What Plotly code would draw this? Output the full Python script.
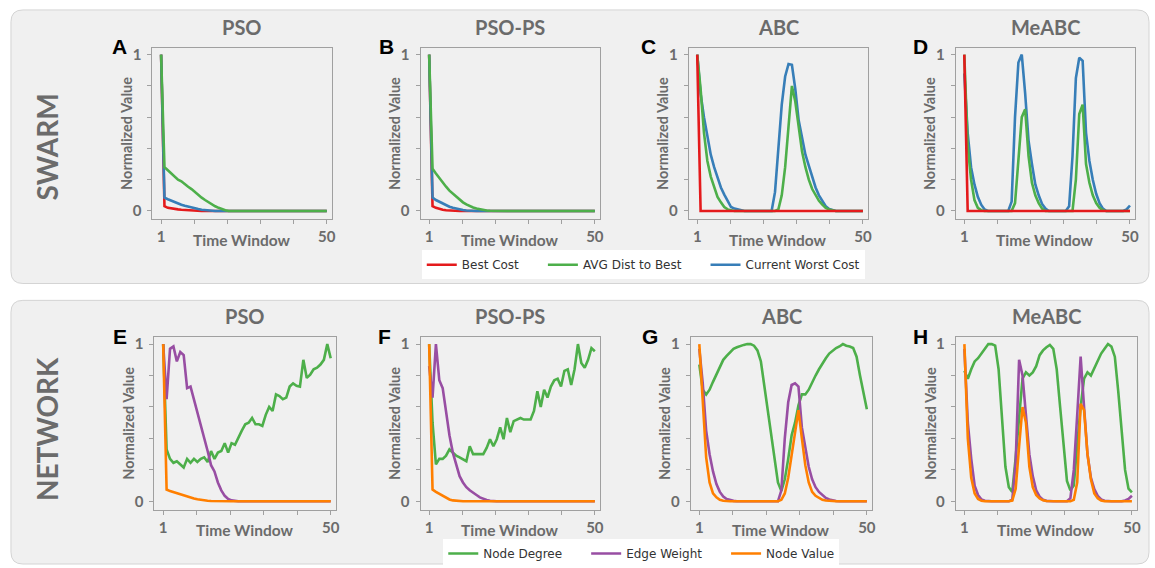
import plotly.graph_objects as go

W, H = 1155, 568

# ---------------- data ----------------
time_window = list(range(1, 51))
col_titles = ["PSO", "PSO-PS", "ABC", "MeABC"]
row_labels = ["SWARM", "NETWORK"]
panel_letters = ["A", "B", "C", "D", "E", "F", "G", "H"]
swarm_names = ["Best Cost", "AVG Dist to Best", "Current Worst Cost"]
network_names = ["Node Degree", "Edge Weight", "Node Value"]

# SWARM: Best Cost / AVG Dist to Best / Current Worst Cost
A_best = [1.0, 0.03, 0.02, 0.015, 0.012, 0.01, 0.008, 0.006, 0.004, 0.003,
          0.002, 0.001, 0, 0, 0, 0, 0, 0, 0, 0,
          0, 0, 0, 0, 0, 0, 0, 0, 0, 0,
          0, 0, 0, 0, 0, 0, 0, 0, 0, 0,
          0, 0, 0, 0, 0, 0, 0, 0, 0, 0]
A_avg = [1.0, 0.28, 0.26, 0.24, 0.22, 0.2, 0.19, 0.17, 0.155, 0.14,
         0.12, 0.1, 0.085, 0.07, 0.055, 0.04, 0.03, 0.02, 0.01, 0.005,
         0, 0, 0, 0, 0, 0, 0, 0, 0, 0,
         0, 0, 0, 0, 0, 0, 0, 0, 0, 0,
         0, 0, 0, 0, 0, 0, 0, 0, 0, 0]
A_worst = [1.0, 0.085, 0.075, 0.065, 0.055, 0.047, 0.04, 0.033, 0.027, 0.022,
           0.017, 0.012, 0.008, 0.005, 0.003, 0.001, 0, 0, 0, 0,
           0, 0, 0, 0, 0, 0, 0, 0, 0, 0,
           0, 0, 0, 0, 0, 0, 0, 0, 0, 0,
           0, 0, 0, 0, 0, 0, 0, 0, 0, 0]

B_best = [1.0, 0.03, 0.02, 0.013, 0.008, 0.005, 0.003, 0.001, 0, 0,
          0, 0, 0, 0, 0, 0, 0, 0, 0, 0,
          0, 0, 0, 0, 0, 0, 0, 0, 0, 0,
          0, 0, 0, 0, 0, 0, 0, 0, 0, 0,
          0, 0, 0, 0, 0, 0, 0, 0, 0, 0]
B_avg = [1.0, 0.27, 0.24, 0.21, 0.18, 0.155, 0.13, 0.11, 0.09, 0.07,
         0.055, 0.042, 0.03, 0.022, 0.015, 0.01, 0.006, 0.003, 0.001, 0,
         0, 0, 0, 0, 0, 0, 0, 0, 0, 0,
         0, 0, 0, 0, 0, 0, 0, 0, 0, 0,
         0, 0, 0, 0, 0, 0, 0, 0, 0, 0]
B_worst = [1.0, 0.085, 0.07, 0.058, 0.046, 0.036, 0.027, 0.02, 0.014, 0.009,
           0.006, 0.003, 0.001, 0, 0, 0, 0, 0, 0, 0,
           0, 0, 0, 0, 0, 0, 0, 0, 0, 0,
           0, 0, 0, 0, 0, 0, 0, 0, 0, 0,
           0, 0, 0, 0, 0, 0, 0, 0, 0, 0]

C_best = [1.0, 0, 0, 0, 0, 0, 0, 0, 0, 0,
          0, 0, 0, 0, 0, 0, 0, 0, 0, 0,
          0, 0, 0, 0, 0, 0, 0, 0, 0, 0,
          0, 0, 0, 0, 0, 0, 0, 0, 0, 0,
          0, 0, 0, 0, 0, 0, 0, 0, 0, 0]
C_avg = [1.0, 0.78, 0.5, 0.32, 0.22, 0.15, 0.09, 0.055, 0.025, 0.01,
         0.003, 0, 0, 0, 0, 0, 0, 0, 0, 0,
         0, 0, 0, 0, 0.01, 0.1, 0.28, 0.55, 0.8, 0.7,
         0.52, 0.38, 0.28, 0.2, 0.14, 0.1, 0.065, 0.04, 0.02, 0.01,
         0.004, 0, 0, 0, 0, 0, 0, 0, 0, 0]
C_worst = [1.0, 0.75, 0.6, 0.48, 0.36, 0.28, 0.21, 0.15, 0.105, 0.06,
           0.025, 0.015, 0.01, 0.005, 0, 0, 0, 0, 0, 0,
           0, 0, 0, 0.12, 0.42, 0.68, 0.86, 0.94, 0.935, 0.78,
           0.58, 0.46, 0.36, 0.29, 0.22, 0.15, 0.1, 0.06, 0.03, 0.012,
           0.004, 0, 0, 0, 0, 0, 0, 0, 0, 0]

D_best = [1.0, 0, 0, 0, 0, 0, 0, 0, 0, 0,
          0, 0, 0, 0, 0, 0, 0, 0, 0, 0,
          0, 0, 0, 0, 0, 0, 0, 0, 0, 0,
          0, 0, 0, 0, 0, 0, 0, 0, 0, 0,
          0, 0, 0, 0, 0, 0, 0, 0, 0, 0]
D_avg = [1.0, 0.42, 0.2, 0.07, 0.02, 0.005, 0, 0, 0, 0,
         0, 0, 0, 0, 0, 0.05, 0.35, 0.6, 0.65, 0.35,
         0.18, 0.1, 0.05, 0.015, 0, 0, 0, 0, 0, 0,
         0, 0, 0, 0.2, 0.62, 0.68, 0.3, 0.18, 0.1, 0.05,
         0.02, 0.005, 0, 0, 0, 0, 0, 0, 0, 0]
D_worst = [0.88, 0.5, 0.28, 0.17, 0.09, 0.04, 0.01, 0, 0, 0,
           0, 0, 0, 0, 0.06, 0.6, 0.95, 1.0, 0.75, 0.45,
           0.3, 0.17, 0.1, 0.045, 0.015, 0, 0, 0, 0, 0,
           0, 0.03, 0.35, 0.85, 0.98, 0.96, 0.5, 0.32, 0.2, 0.11,
           0.05, 0.015, 0, 0, 0, 0, 0, 0, 0.01, 0.035]

# NETWORK: Node Degree / Edge Weight / Node Value
E_deg = [1.0, 0.33, 0.27, 0.245, 0.255, 0.235, 0.215, 0.27, 0.245, 0.27,
         0.25, 0.27, 0.28, 0.25, 0.32, 0.27, 0.31, 0.32, 0.37, 0.31,
         0.37, 0.36, 0.41, 0.45, 0.49, 0.5, 0.53, 0.49, 0.49, 0.48,
         0.55, 0.6, 0.575, 0.68, 0.67, 0.65, 0.66, 0.73, 0.75, 0.735,
         0.73, 0.9, 0.785, 0.805, 0.84, 0.85, 0.87, 0.9, 1.0, 0.91]
E_edge = [1.0, 0.65, 0.97, 0.985, 0.89, 0.95, 0.93, 0.72, 0.73, 0.65,
          0.57, 0.48, 0.4, 0.32, 0.23, 0.19, 0.12, 0.07, 0.035, 0.015,
          0.006, 0.002, 0, 0, 0, 0, 0, 0, 0, 0,
          0, 0, 0, 0, 0, 0, 0, 0, 0, 0,
          0, 0, 0, 0, 0, 0, 0, 0, 0, 0]
E_val = [1.0, 0.075, 0.065, 0.058, 0.05, 0.043, 0.036, 0.03, 0.024, 0.018,
         0.013, 0.009, 0.006, 0.004, 0.002, 0.001, 0, 0, 0, 0,
         0, 0, 0, 0, 0, 0, 0, 0, 0, 0,
         0, 0, 0, 0, 0, 0, 0, 0, 0, 0,
         0, 0, 0, 0, 0, 0, 0, 0, 0, 0]

F_deg = [1.0, 0.5, 0.235, 0.27, 0.27, 0.29, 0.33, 0.31, 0.29, 0.28,
         0.27, 0.255, 0.35, 0.3, 0.3, 0.3, 0.3, 0.34, 0.395, 0.35,
         0.395, 0.47, 0.395, 0.53, 0.44, 0.51, 0.52, 0.53, 0.52, 0.52,
         0.52, 0.575, 0.7, 0.6, 0.71, 0.66, 0.73, 0.77, 0.78, 0.73,
         0.83, 0.84, 0.74, 0.84, 1.0, 0.88, 0.85, 0.9, 0.975, 0.955]
F_edge = [0.86, 0.66, 1.0, 0.77, 0.72, 0.57, 0.42, 0.31, 0.23, 0.16,
          0.12, 0.09, 0.07, 0.057, 0.04, 0.025, 0.016, 0.009, 0.004, 0.001,
          0, 0, 0, 0, 0, 0, 0, 0, 0, 0,
          0, 0, 0, 0, 0, 0, 0, 0, 0, 0,
          0, 0, 0, 0, 0, 0, 0, 0, 0, 0]
F_val = [1.0, 0.075, 0.06, 0.048, 0.035, 0.022, 0.012, 0.006, 0.003, 0.001,
         0, 0, 0, 0, 0, 0, 0, 0, 0, 0,
         0, 0, 0, 0, 0, 0, 0, 0, 0, 0,
         0, 0, 0, 0, 0, 0, 0, 0, 0, 0,
         0, 0, 0, 0, 0, 0, 0, 0, 0, 0]

G_deg = [0.87, 0.71, 0.68, 0.71, 0.76, 0.81, 0.86, 0.9, 0.925, 0.95,
         0.97, 0.98, 0.99, 0.995, 1.0, 1.0, 0.99, 0.96, 0.89, 0.74,
         0.58, 0.42, 0.27, 0.12, 0.066, 0.14, 0.27, 0.42, 0.5, 0.61,
         0.68, 0.68, 0.71, 0.76, 0.8, 0.84, 0.88, 0.91, 0.94, 0.96,
         0.975, 0.985, 1.0, 0.99, 0.985, 0.975, 0.92, 0.8, 0.69, 0.585]
G_edge = [0.97, 0.75, 0.45, 0.3, 0.19, 0.11, 0.06, 0.03, 0.015, 0.007,
          0.003, 0, 0, 0, 0, 0, 0, 0, 0, 0,
          0, 0, 0, 0, 0.07, 0.4, 0.63, 0.74, 0.75, 0.73,
          0.47, 0.33, 0.22, 0.14, 0.09, 0.06, 0.04, 0.022, 0.012, 0.006,
          0.002, 0, 0, 0, 0, 0, 0, 0, 0, 0]
G_val = [1.0, 0.6, 0.28, 0.12, 0.05, 0.025, 0.01, 0.004, 0.001, 0,
         0, 0, 0, 0, 0, 0, 0, 0, 0, 0,
         0, 0, 0, 0, 0.01, 0.05, 0.15, 0.3, 0.44, 0.58,
         0.4, 0.23, 0.12, 0.06, 0.035, 0.02, 0.01, 0.005, 0.002, 0,
         0, 0, 0, 0, 0, 0, 0, 0, 0, 0]

H_deg = [0.83, 0.78, 0.84, 0.89, 0.91, 0.94, 0.97, 1.0, 1.0, 0.99,
         0.84, 0.55, 0.22, 0.09, 0.06, 0.28, 0.55, 0.78, 0.82, 0.8,
         0.82, 0.86, 0.93, 0.96, 0.98, 0.995, 0.97, 0.84, 0.6, 0.37,
         0.13, 0.07, 0.1, 0.36, 0.6, 0.78, 0.82, 0.8, 0.85, 0.9,
         0.94, 0.97, 1.0, 0.985, 0.92, 0.7, 0.45, 0.2, 0.08, 0.057]
H_edge = [0.97, 0.5, 0.27, 0.1, 0.04, 0.012, 0.004, 0, 0, 0,
          0, 0, 0, 0, 0.01, 0.25, 0.9, 0.8, 0.55, 0.3,
          0.16, 0.07, 0.03, 0.01, 0.003, 0, 0, 0, 0, 0,
          0, 0.02, 0.2, 0.55, 0.92, 0.6, 0.3, 0.15, 0.078, 0.035,
          0.012, 0.004, 0, 0, 0, 0, 0, 0.005, 0.015, 0.035]
H_val = [1.0, 0.4, 0.15, 0.05, 0.015, 0.004, 0, 0, 0, 0,
         0, 0, 0, 0, 0.005, 0.08, 0.35, 0.6, 0.5, 0.22,
         0.09, 0.04, 0.018, 0.006, 0.002, 0, 0, 0, 0, 0,
         0, 0, 0.01, 0.12, 0.62, 0.58, 0.3, 0.14, 0.05, 0.02,
         0.005, 0, 0, 0, 0, 0, 0, 0, 0, 0]

swarm_data = [(A_best, A_avg, A_worst), (B_best, B_avg, B_worst),
              (C_best, C_avg, C_worst), (D_best, D_avg, D_worst)]
network_data = [(E_deg, E_edge, E_val), (F_deg, F_edge, F_val),
                (G_deg, G_edge, G_val), (H_deg, H_edge, H_val)]

x_tickvals = [1, 10.8, 20.6, 30.4, 40.2, 50]
x_ticktext = ["1", "", "", "", "", "50"]
y_tickvals = [0, 0.2, 0.4, 0.6, 0.8, 1]
y_ticktext = ["0", "", "", "", "", "1"]

# ---------------- style / layout ----------------
SWARM_COLORS = ["#e41a1c", "#4daf4a", "#377eb8"]
NET_COLORS = ["#4daf4a", "#984ea3", "#ff7f00"]
GRAY = "#6b6b6b"
AX = "#a0a0a0"
LW = 2.6
NB = "\u00a0" * 5  # spacing after legend entries

# drawing order per panel (indices into series); legend order kept via legendrank
swarm_order = [[0, 2, 1], [0, 2, 1], [2, 1, 0], [2, 1, 0]]
net_order = [0, 1, 2]

# plot-area pixel boxes (left, right, top, bottom)
boxes = [
    (153, 333, 45, 218), (422, 602, 45, 218), (691, 871, 45, 218), (959, 1139, 45, 218),
    (155, 337, 337, 511), (422, 602, 337, 511), (693, 875, 337, 511), (959, 1141, 337, 511),
]
letter_x = [120, 388, 651, 924, 120, 386, 652, 924]


def fx(p):
    return p / W


def fy(p):
    return 1 - p / H


fig = go.Figure()

for i in range(8):
    row = i // 4
    col = i % 4
    ax = "" if i == 0 else str(i + 1)
    if row == 0:
        series = swarm_data[col]
        names = swarm_names
        colors = SWARM_COLORS
        legend_id = "legend"
        order = swarm_order[col]
    else:
        series = network_data[col]
        names = network_names
        colors = NET_COLORS
        legend_id = "legend2"
        order = net_order
    for k in order:
        label = names[k] + (NB if k < 2 else "")
        fig.add_trace(go.Scatter(
            x=time_window, y=series[k], mode="lines",
            line=dict(color=colors[k], width=LW),
            name=label, legend=legend_id, legendrank=k + 1,
            showlegend=(col == 0),
            xaxis="x" + ax, yaxis="y" + ax,
        ))
    l, r, t, b = boxes[i]
    common = dict(showline=True, mirror=True, linecolor=AX, linewidth=1,
                  ticks="outside", ticklen=4, tickcolor=AX, tickwidth=1,
                  showgrid=False, zeroline=False,
                  tickfont=dict(family="Lato", size=15, color=GRAY, weight="bold"))
    fig.update_layout(**{
        "xaxis" + ax: dict(domain=[fx(l), fx(r)], range=[-1.55, 51.5],
                           anchor="y" + ax, tickvals=x_tickvals, ticktext=x_ticktext,
                           **common),
        "yaxis" + ax: dict(domain=[fy(b), fy(t)], range=[-0.052, 1.045],
                           anchor="x" + ax, tickvals=y_tickvals, ticktext=y_ticktext,
                           ticklabelstandoff=3, **common),
    })

annotations = []
for i in range(8):
    l, r, t, b = boxes[i]
    cx = (l + r) / 2
    cy = (t + b) / 2
    annotations.append(dict(text=col_titles[i % 4], x=fx(cx), y=fy(t - 21),
                            xref="paper", yref="paper", showarrow=False,
                            xanchor="center", yanchor="middle",
                            font=dict(family="Lato", size=20, color=GRAY, weight="bold")))
    annotations.append(dict(text=panel_letters[i], x=fx(letter_x[i]), y=fy(t - 1),
                            xref="paper", yref="paper", showarrow=False,
                            xanchor="center", yanchor="middle",
                            font=dict(family="Liberation Sans", size=21, color="#000000",
                                      weight="bold")))
    annotations.append(dict(text="Normalized Value", x=fx(l - 26), y=fy(cy),
                            xref="paper", yref="paper", showarrow=False, textangle=-90,
                            xanchor="center", yanchor="middle",
                            font=dict(family="Lato", size=14.5, color=GRAY, weight="bold")))
    annotations.append(dict(text="Time Window", x=fx(cx), y=fy(b + 21),
                            xref="paper", yref="paper", showarrow=False,
                            xanchor="center", yanchor="middle",
                            font=dict(family="Lato", size=15.5, color=GRAY, weight="bold")))

annotations.append(dict(text=row_labels[0], x=fx(47), y=fy(145), xref="paper", yref="paper",
                        showarrow=False, textangle=-90, xanchor="center", yanchor="middle",
                        font=dict(family="Lato", size=28, color=GRAY, weight="bold")))
annotations.append(dict(text=row_labels[1], x=fx(47), y=fy(430), xref="paper", yref="paper",
                        showarrow=False, textangle=-90, xanchor="center", yanchor="middle",
                        font=dict(family="Lato", size=28, color=GRAY, weight="bold")))


def rounded_rect(x0, y0, x1, y1, r):
    rx, ry = r / W, r / H
    X0, X1 = fx(x0), fx(x1)
    Y0, Y1 = fy(y0), fy(y1)  # Y0 top, Y1 bottom
    return (f"M {X0 + rx},{Y0} L {X1 - rx},{Y0} Q {X1},{Y0} {X1},{Y0 - ry} "
            f"L {X1},{Y1 + ry} Q {X1},{Y1} {X1 - rx},{Y1} "
            f"L {X0 + rx},{Y1} Q {X0},{Y1} {X0},{Y1 + ry} "
            f"L {X0},{Y0 - ry} Q {X0},{Y0} {X0 + rx},{Y0} Z")


shapes = [
    dict(type="path", path=rounded_rect(11, 7, 1153, 283, 12), xref="paper", yref="paper",
         fillcolor="#f0f0f0", line=dict(color="#d4d4d4", width=1), layer="below"),
    dict(type="path", path=rounded_rect(11, 300, 1153, 566, 12), xref="paper", yref="paper",
         fillcolor="#f0f0f0", line=dict(color="#d4d4d4", width=1), layer="below"),
]

legend_style = dict(orientation="h", xanchor="center", yanchor="middle",
                    bgcolor="#ffffff", borderwidth=0,
                    font=dict(family="DejaVu Sans", size=12, color="#333333"),
                    itemwidth=30, tracegroupgap=0)

fig.update_layout(
    width=W, height=H,
    margin=dict(l=0, r=0, t=0, b=0),
    paper_bgcolor="#ffffff", plot_bgcolor="#ffffff",
    annotations=annotations, shapes=shapes,
    legend=dict(x=fx(645.5), y=fy(264), **legend_style),
    legend2=dict(x=fx(643.5), y=fy(555.5), **legend_style),
)

fig.write_html("out.html")
